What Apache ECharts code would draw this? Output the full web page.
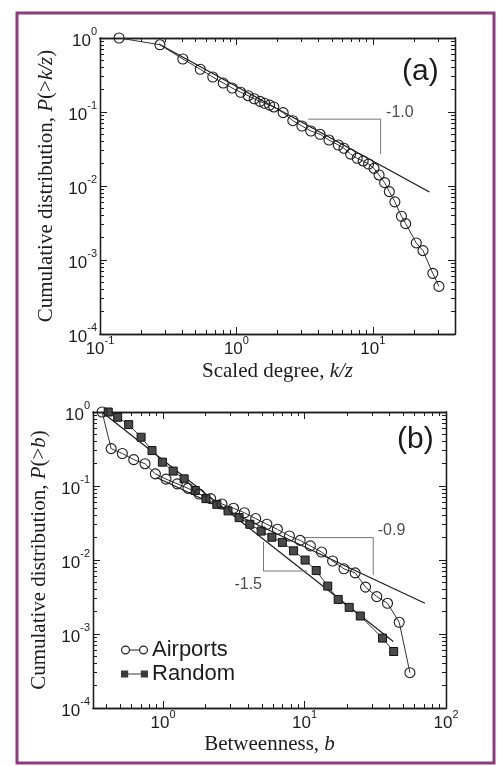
<!DOCTYPE html>
<html>
<head>
<meta charset="utf-8">
<script src="https://cdn.jsdelivr.net/npm/echarts@6.0.0/dist/echarts.min.js"></script>
<style>
  html, body { margin: 0; background: #fff; }
  #chart { width: 498px; height: 766px; }
</style>
</head>
<body>
<div id="chart"></div>
<script>
// (a) cumulative degree distribution
const degreeK = [0.138, 0.275, 0.405, 0.543, 0.671, 0.80, 0.93, 1.075, 1.22, 1.35, 1.49, 1.61, 1.75, 1.88,
  2.2, 2.59, 3.02, 3.51, 4.10, 4.77, 5.58, 6.14, 6.87, 7.68, 8.49, 9.30, 10.2, 11.1, 12.2, 13.2, 14.5,
  16.2, 17.4, 20.8, 23.3, 27.5, 30.5]
const degreeP = [1.0, 0.81, 0.52, 0.378, 0.297, 0.246, 0.211, 0.185, 0.166, 0.151, 0.139, 0.131, 0.124, 0.117,
  0.098, 0.0763, 0.0647, 0.0554, 0.050, 0.0418, 0.0358, 0.0323, 0.027, 0.0237, 0.0218, 0.0198, 0.0173, 0.0141,
  0.0111, 0.0084, 0.0061, 0.0039, 0.0031, 0.0017, 0.00134, 0.00066, 0.00044]
const fitDegree = [[0.27, 0.83], [26, 0.0083]]
const slopeDegree = [[3.36, 0.08], [11.4, 0.08], [11.4, 0.027]]

// (b) cumulative betweenness distribution
const airportB = [0.371, 0.43, 0.516, 0.621, 0.746, 0.883, 1.05, 1.26, 1.50, 1.80, 2.17, 2.61, 3.15, 3.76,
  4.52, 5.42, 6.43, 7.82, 9.31, 11.0, 13.2, 15.8, 19.0, 22.8, 27.0, 32.4, 38.6, 46.7, 55.6]
const airportP = [1.0, 0.32, 0.275, 0.227, 0.20, 0.146, 0.124, 0.107, 0.093, 0.078, 0.0675, 0.0572, 0.050, 0.0435,
  0.0363, 0.0304, 0.026, 0.0211, 0.0184, 0.0155, 0.0128, 0.0097, 0.0076, 0.0067, 0.0043, 0.0032, 0.0026, 0.00144, 0.0003]
const randomB = [0.41, 0.478, 0.572, 0.70, 0.836, 0.99, 1.18, 1.41, 1.69, 2.01, 2.40, 2.88, 3.45, 4.11,
  4.94, 5.88, 6.98, 8.37, 10.1, 12.1, 14.6, 17.3, 20.7, 24.8, 35.6, 42.7]
const randomP = [1.0, 0.849, 0.675, 0.456, 0.301, 0.21, 0.159, 0.125, 0.087, 0.0675, 0.0565, 0.0461, 0.0374, 0.0304,
  0.0246, 0.0203, 0.0173, 0.0133, 0.00998, 0.0072, 0.00444, 0.00293, 0.00229, 0.00175, 0.00088, 0.00058]
const fitAirports = [[0.9, 0.13], [71, 0.0026]]
const fitRandom = [[0.37, 1.0], [42.4, 0.00079]]
const slopeAirports = [[9.8, 0.0201], [30.6, 0.0201], [30.6, 0.0063]]
const slopeRandom = [[5.13, 0.0176], [5.13, 0.0071], [10.4, 0.0071]]

// tick labels (decades)
const xTicksA = [0.1, 1, 10]
const xTicksB = [1, 10, 100]
const yTicks = [1e-4, 1e-3, 1e-2, 1e-1, 1]

const INK = '#1c1c1c'
const SANS = 'Liberation Sans'
const SERIF = 'Liberation Serif'

const zip = (xs, ys) => xs.map((x, i) => [x, ys[i]])

// 2..9 times each decade, kept inside [lo, hi]
const minorTicks = (lo, hi) => {
  const out = []
  for (let e = Math.floor(Math.log10(lo)); e < Math.ceil(Math.log10(hi)); e++) {
    for (let m = 2; m <= 9; m++) {
      const v = m * Math.pow(10, e)
      if (v > lo && v < hi) out.push(v)
    }
  }
  return out
}

const powLabel = v => '{b|10}{s|' + Math.round(Math.log10(v)) + '}'
const labelRich = {
  b: { fontFamily: SANS, fontSize: 17, color: INK, verticalAlign: 'bottom' },
  s: { fontFamily: SANS, fontSize: 11, color: INK, verticalAlign: 'top', padding: [0, 0, 12, 0] }
}
const nameStyle = {
  fontFamily: SERIF, fontSize: 21, color: INK,
  rich: { i: { fontFamily: SERIF, fontSize: 21, color: INK, fontStyle: 'italic' } }
}

const logAxis = (gridIndex, position, min, max, ticks, major, extra) => Object.assign({
  type: 'log', logBase: 10, gridIndex, position, min, max,
  axisLine: { show: true, onZero: false, lineStyle: { color: INK, width: 1.3 } },
  axisTick: { show: true, inside: true, length: major ? 7 : 4, customValues: ticks, lineStyle: { color: INK, width: 1 } },
  axisLabel: { show: false },
  splitLine: { show: false },
  minorTick: { show: false }
}, extra || {})

const panelAxes = (dim, g, min, max, majors, near, far, labelExtra) => {
  const minors = minorTicks(min, max)
  return [
    logAxis(g, near, min, max, majors, true, labelExtra),
    logAxis(g, near, min, max, minors, false),
    logAxis(g, far, min, max, majors, true),
    logAxis(g, far, min, max, minors, false)
  ]
}

const xAxis = [
  ...panelAxes('x', 0, 0.1, 40, xTicksA, 'bottom', 'top', {
    axisLabel: { show: true, customValues: xTicksA, formatter: powLabel, rich: labelRich, margin: 1 },
    name: 'Scaled degree, {i|k/z}', nameLocation: 'middle', nameGap: 27, nameTextStyle: nameStyle
  }),
  ...panelAxes('x', 1, 0.32, 100, xTicksB, 'bottom', 'top', {
    axisLabel: { show: true, customValues: xTicksB, formatter: powLabel, rich: labelRich, margin: 1 },
    name: 'Betweenness, {i|b}', nameLocation: 'middle', nameGap: 26, nameTextStyle: nameStyle
  })
]
const yAxis = [
  ...panelAxes('y', 0, 1e-4, 1, yTicks, 'left', 'right', {
    axisLabel: { show: true, customValues: yTicks, formatter: powLabel, rich: labelRich, margin: 3 },
    name: 'Cumulative distribution, {i|P}(>{i|k/z})', nameLocation: 'middle', nameGap: 40, nameTextStyle: nameStyle
  }),
  ...panelAxes('y', 1, 1e-4, 1, yTicks, 'left', 'right', {
    axisLabel: { show: true, customValues: yTicks, formatter: powLabel, rich: labelRich, margin: 3 },
    name: 'Cumulative distribution, {i|P}(>{i|b})', nameLocation: 'middle', nameGap: 35, nameTextStyle: nameStyle
  })
]

const hollow = { color: 'rgba(0,0,0,0)', borderColor: INK, borderWidth: 1.1 }
const noteLabel = { show: true, fontFamily: SANS, fontSize: 16, color: INK, formatter: p => p.value[2] }

const circlesIcon = 'path://M0,5A5,5 0 1,1 10,5A5,5 0 1,1 0,5ZM1.3,5A3.7,3.7 0 1,0 8.7,5A3.7,3.7 0 1,0 1.3,5Z' +
  'M10,4.4L20,4.4L20,5.6L10,5.6Z' +
  'M20,5A5,5 0 1,1 30,5A5,5 0 1,1 20,5ZM21.3,5A3.7,3.7 0 1,0 28.7,5A3.7,3.7 0 1,0 21.3,5Z'
const squaresIcon = 'path://M0,1L8,1L8,9L0,9Z M8,4.4L22,4.4L22,5.6L8,5.6Z M22,1L30,1L30,9L22,9Z'

const option = {
  animation: false,
  backgroundColor: '#fff',
  graphic: [{
    type: 'rect', shape: { x: 17, y: 13, width: 477, height: 750 },
    style: { fill: 'none', stroke: '#8b3c7f', lineWidth: 3 }
  }],
  title: [
    { text: '(a)', left: 402, top: 57, padding: 0, textStyle: { fontFamily: SANS, fontSize: 30, fontWeight: 'normal', color: INK } },
    { text: '(b)', left: 397, top: 425, padding: 0, textStyle: { fontFamily: SANS, fontSize: 30, fontWeight: 'normal', color: INK } }
  ],
  legend: {
    orient: 'vertical', left: 116, top: 634, itemGap: 2, itemWidth: 27, itemHeight: 9,
    textStyle: { fontFamily: SANS, fontSize: 22, color: INK, padding: [0, 0, 0, -1] },
    data: [
      { name: 'Airports', icon: circlesIcon, itemStyle: { color: INK, borderWidth: 0 } },
      { name: 'Random', icon: squaresIcon, itemStyle: { color: '#3a3a3a', borderWidth: 0 } }
    ]
  },
  grid: [
    { left: 100, top: 38, width: 355, height: 296 },
    { left: 93, top: 412, width: 353, height: 296 }
  ],
  xAxis,
  yAxis,
  series: [
    { type: 'line', name: 'fit-a', xAxisIndex: 0, yAxisIndex: 0, data: fitDegree, symbol: 'none', lineStyle: { color: INK, width: 1.3 } },
    { type: 'line', name: 'slope-a', xAxisIndex: 0, yAxisIndex: 0, data: slopeDegree, symbol: 'none', lineStyle: { color: '#777', width: 1 } },
    {
      type: 'line', name: 'Degree', xAxisIndex: 0, yAxisIndex: 0, data: zip(degreeK, degreeP),
      symbol: 'circle', symbolSize: 10, itemStyle: hollow, lineStyle: { color: '#333', width: 1 }, z: 3
    },
    {
      type: 'scatter', name: 'note-a', xAxisIndex: 0, yAxisIndex: 0, symbolSize: 1, itemStyle: { color: 'rgba(0,0,0,0)' },
      data: [{ value: [11.4, 0.08, '-1.0'], label: Object.assign({}, noteLabel, { position: 'right', distance: 5, offset: [0, -7] }) }]
    },

    { type: 'line', name: 'fit-airports', xAxisIndex: 4, yAxisIndex: 4, data: fitAirports, symbol: 'none', lineStyle: { color: INK, width: 1.2 } },
    { type: 'line', name: 'fit-random', xAxisIndex: 4, yAxisIndex: 4, data: fitRandom, symbol: 'none', lineStyle: { color: INK, width: 1.2 } },
    { type: 'line', name: 'slope-airports', xAxisIndex: 4, yAxisIndex: 4, data: slopeAirports, symbol: 'none', lineStyle: { color: '#777', width: 1 } },
    { type: 'line', name: 'slope-random', xAxisIndex: 4, yAxisIndex: 4, data: slopeRandom, symbol: 'none', lineStyle: { color: '#777', width: 1 } },
    {
      type: 'line', name: 'Random', xAxisIndex: 4, yAxisIndex: 4, data: zip(randomB, randomP),
      symbol: 'rect', symbolSize: 8, itemStyle: { color: '#4a4a4a', borderColor: '#111', borderWidth: 1 },
      lineStyle: { color: '#333', width: 1 }, z: 3
    },
    {
      type: 'line', name: 'Airports', xAxisIndex: 4, yAxisIndex: 4, data: zip(airportB, airportP),
      symbol: 'circle', symbolSize: 10, itemStyle: hollow, lineStyle: { color: '#333', width: 1 }, z: 4
    },
    {
      type: 'scatter', name: 'note-b', xAxisIndex: 4, yAxisIndex: 4, symbolSize: 1, itemStyle: { color: 'rgba(0,0,0,0)' },
      data: [
        { value: [30.6, 0.0201, '-0.9'], label: Object.assign({}, noteLabel, { position: 'right', distance: 4, offset: [0, -7] }) },
        { value: [5.13, 0.0071, '-1.5'], label: Object.assign({}, noteLabel, { position: 'left', distance: 1, offset: [0, 14] }) }
      ]
    }
  ]
}

const chart = echarts.init(document.getElementById('chart'))
chart.setOption(option)
</script>
</body>
</html>
